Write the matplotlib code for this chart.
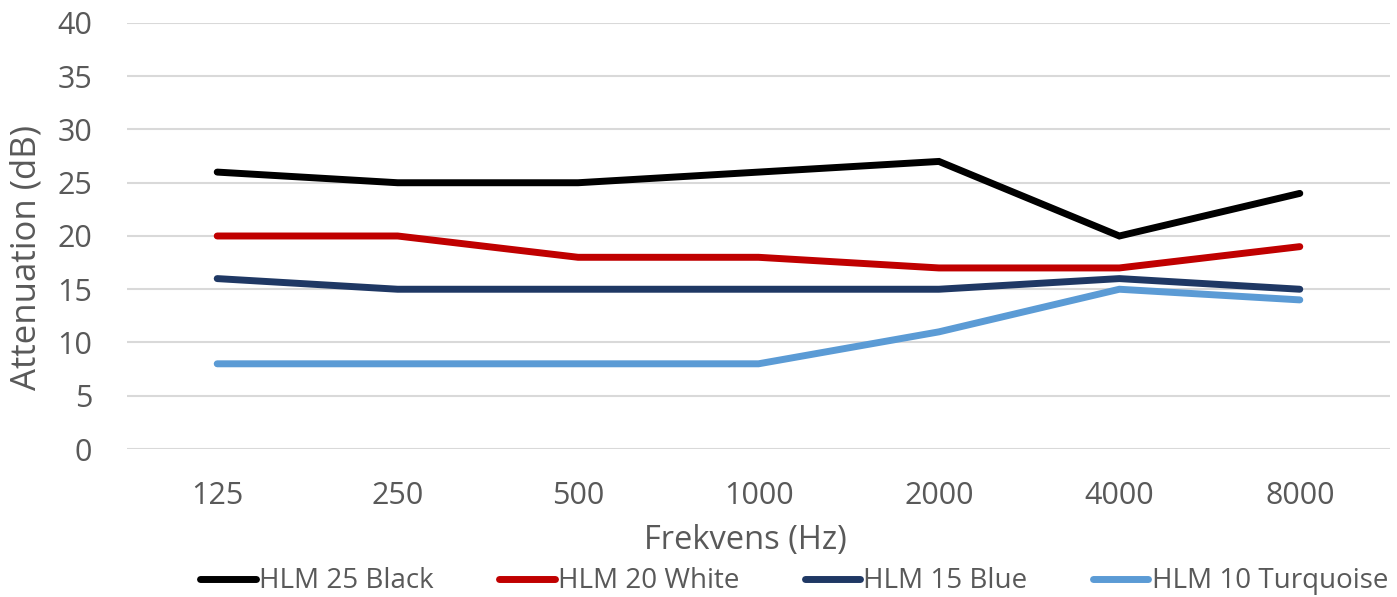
import matplotlib
matplotlib.use("Agg")
import matplotlib.pyplot as plt

plt.rcParams['font.family'] = ['Open Sans', 'DejaVu Sans']

freqs = ["125", "250", "500", "1000", "2000", "4000", "8000"]
hlm25_black = [26, 25, 25, 26, 27, 20, 24]
hlm20_white = [20, 20, 18, 18, 17, 17, 19]
hlm15_blue = [16, 15, 15, 15, 15, 16, 15]
hlm10_turq = [8, 8, 8, 8, 11, 15, 14]

series = [
    ("HLM 25 Black", hlm25_black, "#000000"),
    ("HLM 20 White", hlm20_white, "#C00000"),
    ("HLM 15 Blue", hlm15_blue, "#1F3864"),
    ("HLM 10 Turquoise", hlm10_turq, "#5B9BD5"),
]

fig = plt.figure(figsize=(13.97, 5.97), dpi=100)
ax = fig.add_axes([0.0909, 0.2479, 0.9041, 0.7136])
x = list(range(len(freqs)))
for name, vals, col in series:
    ax.plot(x, vals, color=col, lw=5, label=name, solid_capstyle='round', solid_joinstyle='miter')

ax.set_xlim(-0.5, len(freqs) - 0.5)
ax.set_ylim(0, 40)
ax.set_yticks(range(0, 41, 5))
ax.set_xticks(x)
ax.set_xticklabels(freqs)
ax.grid(axis='y', color='#D9D9D9', lw=1.5)
ax.set_axisbelow(True)
for s in ax.spines.values():
    s.set_visible(False)
ax.tick_params(axis='both', length=0, labelsize=22, labelcolor='#595959')
ax.tick_params(axis='y', pad=25)
ax.tick_params(axis='x', pad=23)
ax.set_xlabel("Frekvens (Hz)", fontsize=23.5, color='#595959', va='center')
ax.xaxis.set_label_coords(0.4897, -0.2136)
ax.set_ylabel("Attenuation (dB)", fontsize=25, color='#595959', va='center')
ax.yaxis.set_label_coords(-0.0792, 0.45)

leg = fig.legend(loc='center', bbox_to_anchor=(0.5685, 0.026), ncol=4, frameon=False,
                 fontsize=20, handlelength=2.0, handletextpad=0.12, columnspacing=2.35,
                 labelcolor='#595959', borderaxespad=0, borderpad=0)
for h in leg.get_lines():
    h.set_linewidth(5)

fig.savefig("out.png", dpi=100)
